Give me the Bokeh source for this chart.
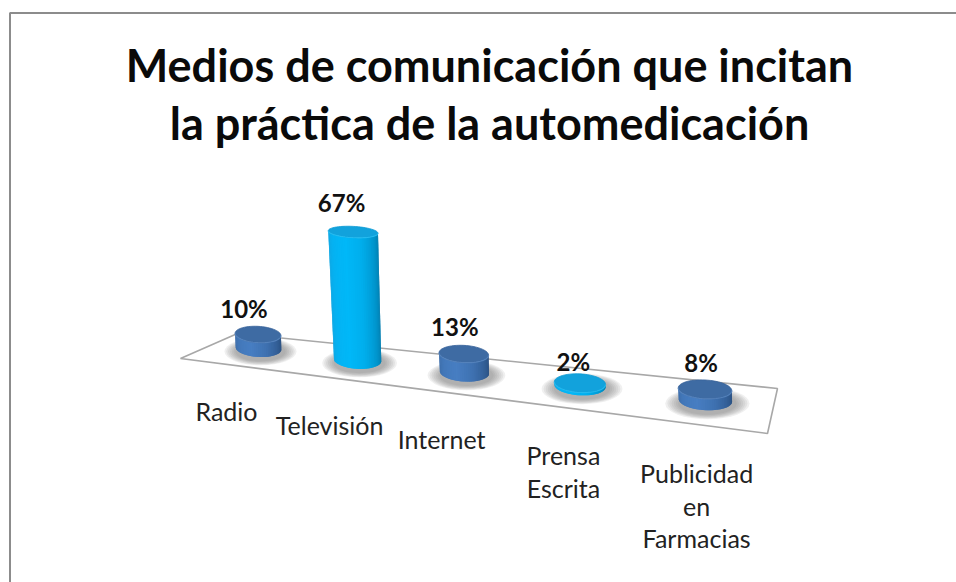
import math
from bokeh.plotting import figure
from bokeh.models import Range1d
from bokeh.core.properties import value
from bokeh.embed import file_html
from bokeh.resources import INLINE

title_lines = ["Medios de comunicación que incitan", "la práctica de la automedicación"]
categories = [["Radio"], ["Televisión"], ["Internet"], ["Prensa", "Escrita"], ["Publicidad", "en", "Farmacias"]]
values = [10, 67, 13, 2, 8]
labels = ["10%", "67%", "13%", "2%", "8%"]
highlight = [False, True, False, True, False]

W, H = 956, 582
p = figure(width=W, height=H, output_backend="svg", toolbar_location=None,
           x_range=Range1d(0, W), y_range=Range1d(H, 0),
           min_border=0, outline_line_color=None)
p.axis.visible = False
p.grid.visible = False
p.background_fill_color = "white"
p.border_fill_color = "white"

# frame (only left and top are visible)
p.line([9.5, 9.5], [H, 12.5], line_color="#8C8C8C", line_width=2)
p.line([9, W], [12.5, 12.5], line_color="#8C8C8C", line_width=2)

# floor
p.patch([180, 767, 777, 237, 180], [358, 433, 388, 333, 358], fill_color="white",
        line_color="#A8A8A8", line_width=1.6)


def persp(i, b):
    return 1 / (1 - b * i)


def base_pos(i):
    x = 258 + 95.5 * i * persp(i, 0.0363)
    return x, 348 + 0.1163 * (x - 258)


def height_of(v):
    return 1.337 * v / (1 - 0.00448 * v)


def mix(c1, c2, t):
    return "#%02x%02x%02x" % tuple(round(a + (b - a) * t) for a, b in zip(c1, c2))


def shade(u, stops):
    u = u * (len(stops) - 1)
    k = min(int(u), len(stops) - 2)
    return mix(stops[k], stops[k + 1], u - k)


BODY = {
    False: [(0x3A, 0x6A, 0xA6), (0x43, 0x78, 0xBA), (0x47, 0x7E, 0xC2), (0x3F, 0x72, 0xB2), (0x33, 0x5F, 0x97), (0x27, 0x4C, 0x7C)],
    True: [(0x10, 0xA4, 0xE0), (0x05, 0xB2, 0xF2), (0x00, 0xB8, 0xF8), (0x00, 0xAE, 0xEC), (0x00, 0x96, 0xCE), (0x00, 0x78, 0xA8)],
}
TOP = {False: ("#3E6BA3", "#38639A", "#5C8BC6"), True: ("#12A2DC", "#0D9BD4", "#2CC4F8")}
TILT = 0.05
N = 36


def ell_pts(cx, cy, rx, ry, t):
    x = cx + rx * math.cos(t)
    y = cy + ry * math.sin(t)
    return x, y + (x - cx) * TILT


for i, v in enumerate(values):
    bx, by = base_pos(i)
    s = persp(i, 0.0363)
    rx = 22.8 * s
    ry = 8.5 + 0.3 * i
    h = height_of(v)
    tx = bx - 0.035 * h
    ty = by - h
    trx = rx * (1 + 0.0004 * h)
    try_ = ry * (1 - 0.0028 * h)

    # soft shadow
    for k in range(7):
        f = 1.58 - 0.08 * k
        p.ellipse([bx + 2], [by + 3], width=2 * rx * f, height=2 * ry * (f + 0.05),
                  fill_color="#6E6E6E", fill_alpha=0.1, line_color=None)

    # body strips: each strip overlaps the next to avoid seams
    for k in range(N):
        a0 = math.pi * (1 - k / N)
        a1 = math.pi * (1 - min(k + 2, N) / N)
        b0 = ell_pts(bx, by, rx, ry, a0)
        b1 = ell_pts(bx, by, rx, ry, a1)
        t0 = ell_pts(tx, ty, trx, try_, a0)
        t1 = ell_pts(tx, ty, trx, try_, a1)
        col = shade((k + 0.5) / N, BODY[highlight[i]])
        p.patch([b0[0], b1[0], t1[0], t0[0]], [b0[1], b1[1], t1[1], t0[1]],
                fill_color=col, line_color=None)

    # top cap
    ts = [2 * math.pi * j / 60 for j in range(61)]
    pts = [ell_pts(tx, ty, trx, try_, t) for t in ts]
    p.patch([q[0] for q in pts], [q[1] for q in pts], fill_color=TOP[highlight[i]][0],
            line_color=TOP[highlight[i]][1], line_width=0.8)
    # lit front rim of the cap
    rim = [ell_pts(tx, ty, trx, try_, math.pi * j / 30) for j in range(31)]
    p.line([q[0] for q in rim], [q[1] for q in rim], line_color=TOP[highlight[i]][2],
           line_width=1.2, line_alpha=0.7)

    # value label
    p.text([tx - 14 + 2.5 * i], [ty - try_ - (10 + 3.4 * math.log(v))], text=[labels[i]],
           text_font=value("Lato"), text_font_style="bold", text_font_size="24px",
           text_color="#111111", text_align="center", text_baseline="middle")

    # category label
    lx = 226 + 99.1 * i * persp(i, 0.0392)
    ly = 410.5 + 0.132 * (lx - 226)
    for j, line in enumerate(categories[i]):
        p.text([lx], [ly + 32.5 * j], text=[line], text_font=value("Lato"),
               text_font_size="25px", text_color="#222222",
               text_align="center", text_baseline="middle")

for j, line in enumerate(title_lines):
    p.text([489], [64.5 + 58 * j], text=[line], text_font=value("Lato"), text_font_style="bold",
           text_font_size="45px", text_color="#0A0A0A", text_align="center", text_baseline="middle")

open("out.html", "w").write(file_html(p, INLINE))
